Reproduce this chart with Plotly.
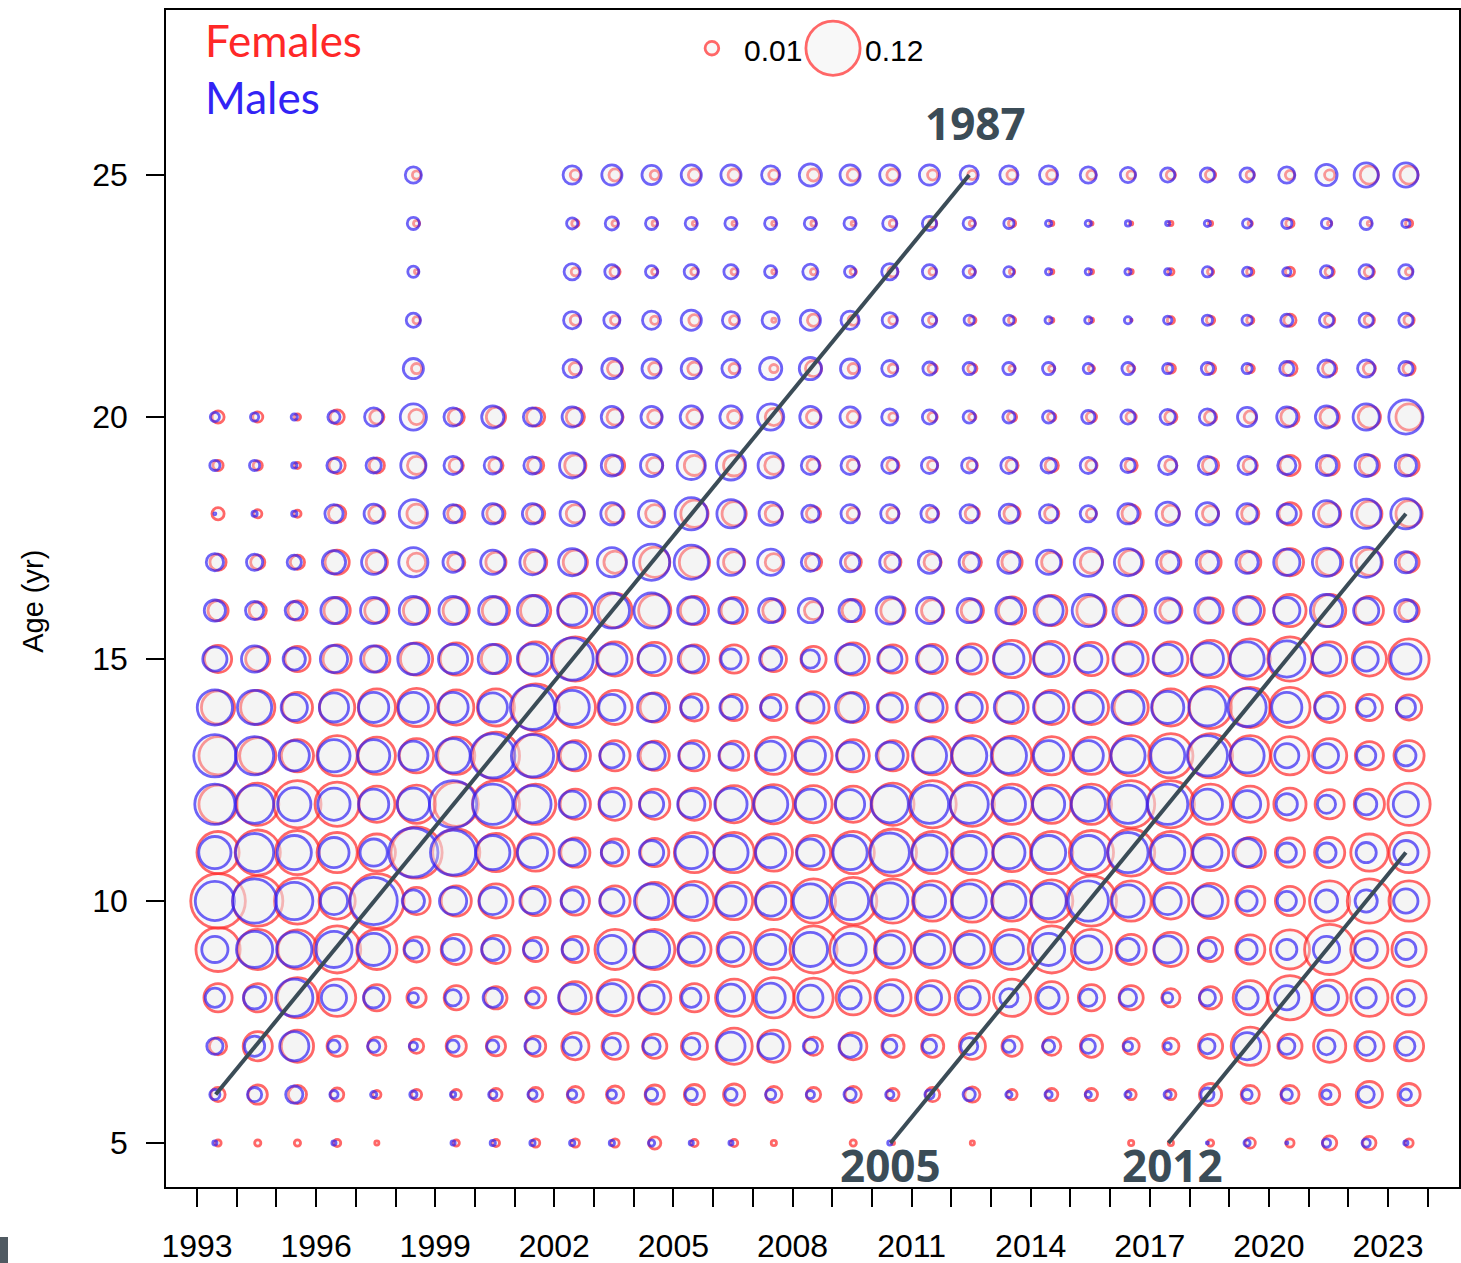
import numpy as np
import plotly.graph_objects as go

# ---------------- data (proportion at age, by year) ----------------
years = list(range(1993, 2024))
ages = list(range(5, 26))
N = None

F5 = [.0030,.0030,.0030,.0037,.0018,N,.0030,.0037,.0045,.0045,.0045,.0083,.0037,.0037,.0024,N,.0030,.0013,N,.0018,N,N,N,.0024,.0024,.0030,.0062,.0045,.0107,.0095,.0045]
F6 = [.0107,.0179,.0163,.0095,.0045,.0062,.0062,.0083,.0107,.0133,.0148,.0179,.0195,.0213,.0133,.0107,.0133,.0083,.0107,.0120,.0062,.0083,.0083,.0062,.0062,.0231,.0163,.0163,.0195,.0311,.0231]
F7 = [.0148,.0378,.0453,.0195,.0163,.0107,.0195,.0179,.0195,.0333,.0311,.0269,.0311,.0562,.0453,.0163,.0333,.0231,.0231,.0311,.0195,.0163,.0231,.0133,.0133,.0269,.0621,.0269,.0453,.0378,.0378]
F8 = [.0355,.0355,.0683,.0591,.0311,.0179,.0269,.0231,.0195,.0453,.0562,.0453,.0355,.0591,.0683,.0652,.0506,.0562,.0506,.0506,.0591,.0453,.0311,.0269,.0163,.0231,.0506,.0816,.0534,.0591,.0506]
F9 = [.0816,.0683,.0652,.0924,.0683,.0290,.0402,.0355,.0269,.0311,.0683,.0683,.0479,.0506,.0683,.0924,.0924,.0591,.0591,.0591,.0683,.0924,.0683,.0402,.0506,.0269,.0378,.0652,.1038,.0591,.0506]
F10 = [.1220,.1038,.0887,.0562,.1220,.0333,.0402,.0506,.0378,.0355,.0402,.0591,.0652,.0591,.0591,.0816,.0924,.0816,.0683,.0748,.0683,.0748,.1038,.0683,.0562,.0534,.0378,.0378,.0683,.0816,.0683]
F11 = [.0748,.0851,.0816,.0683,.0591,.1078,.0924,.0621,.0591,.0378,.0333,.0355,.0683,.0683,.0591,.0506,.0748,.0924,.0748,.0748,.0621,.0748,.0816,.0924,.0748,.0562,.0402,.0378,.0402,.0591,.0683]
F12 = [.0621,.0748,.0924,.0816,.0562,.0621,.0816,.0924,.0683,.0402,.0453,.0402,.0453,.0591,.0652,.0591,.0562,.0748,.0924,.0816,.0683,.0621,.0683,.0924,.0924,.0683,.0562,.0453,.0378,.0402,.0748]
F13 = [.0621,.0562,.0453,.0683,.0591,.0506,.0591,.0924,.0816,.0402,.0402,.0378,.0402,.0378,.0591,.0591,.0453,.0402,.0621,.0683,.0652,.0621,.0591,.0683,.0816,.0816,.0683,.0621,.0506,.0355,.0402]
F14 = [.0479,.0506,.0402,.0534,.0591,.0621,.0534,.0591,.0924,.0683,.0506,.0378,.0333,.0311,.0311,.0427,.0402,.0378,.0378,.0402,.0453,.0506,.0506,.0506,.0591,.0748,.0683,.0683,.0402,.0311,.0290]
F15 = [.0333,.0269,.0290,.0355,.0311,.0453,.0453,.0378,.0506,.0816,.0506,.0479,.0355,.0355,.0290,.0290,.0453,.0355,.0378,.0402,.0591,.0534,.0479,.0506,.0506,.0591,.0683,.0816,.0506,.0506,.0683]
F16 = [.0195,.0148,.0179,.0311,.0269,.0311,.0311,.0333,.0402,.0506,.0506,.0453,.0355,.0311,.0231,.0163,.0231,.0269,.0231,.0231,.0333,.0402,.0378,.0402,.0231,.0290,.0355,.0453,.0453,.0355,.0195]
F17 = [.0133,.0107,.0107,.0269,.0213,.0163,.0148,.0195,.0231,.0269,.0231,.0402,.0402,.0213,.0148,.0133,.0133,.0133,.0148,.0163,.0195,.0195,.0231,.0269,.0195,.0213,.0213,.0333,.0311,.0311,.0195]
F18 = [.0083,.0045,.0037,.0148,.0133,.0179,.0148,.0163,.0163,.0163,.0163,.0163,.0333,.0269,.0148,.0107,.0083,.0083,.0083,.0107,.0133,.0107,.0062,.0163,.0148,.0133,.0148,.0231,.0231,.0290,.0311]
F19 = [.0062,.0053,.0030,.0133,.0120,.0163,.0107,.0107,.0133,.0213,.0179,.0133,.0195,.0213,.0163,.0095,.0083,.0083,.0062,.0062,.0083,.0095,.0072,.0083,.0083,.0133,.0107,.0195,.0179,.0195,.0195]
F20 = [.0083,.0062,.0030,.0107,.0107,.0120,.0133,.0179,.0163,.0163,.0133,.0107,.0120,.0095,.0148,.0107,.0083,.0045,.0053,.0037,.0053,.0045,.0062,.0062,.0083,.0083,.0083,.0163,.0179,.0231,.0311]
F21 = [N,N,N,N,N,.0062,N,N,N,.0083,.0120,.0083,.0095,.0062,.0045,.0133,.0062,.0053,.0053,.0053,.0030,.0030,.0030,.0037,.0053,.0062,.0045,.0107,.0107,.0083,.0083]
F22 = [N,N,N,N,N,.0037,N,N,N,.0062,.0053,.0045,.0072,.0053,.0018,.0083,.0062,.0045,.0045,.0037,.0037,.0018,.0018,.0009,.0037,.0045,.0037,.0083,.0062,.0062,.0062]
F23 = [N,N,N,N,N,.0018,N,N,N,.0045,.0062,.0030,.0037,.0030,.0018,.0030,.0030,.0062,.0037,.0030,.0024,.0018,.0018,.0018,.0030,.0030,.0037,.0053,.0053,.0062,.0037]
F24 = [N,N,N,N,N,.0030,N,N,N,.0037,.0030,.0024,.0018,.0018,.0018,.0024,.0018,.0037,.0045,.0030,.0037,.0018,.0013,.0013,.0018,.0018,.0018,.0045,.0018,.0018,.0037]
F25 = [N,N,N,N,N,.0045,N,N,N,.0062,.0083,.0053,.0083,.0083,.0062,.0083,.0083,.0083,.0062,.0053,.0062,.0062,.0053,.0045,.0053,.0062,.0045,.0053,.0062,.0163,.0163]

M5 = [.0018,N,N,.0018,N,N,.0018,.0024,.0024,.0024,.0024,.0030,.0018,.0018,N,N,N,.0018,N,N,N,N,N,N,N,.0009,.0030,.0009,.0045,.0045,.0018]
M6 = [.0062,.0107,.0148,.0045,.0030,.0037,.0024,.0045,.0053,.0053,.0053,.0083,.0083,.0083,.0062,.0045,.0083,.0045,.0053,.0083,.0030,.0037,.0030,.0030,.0037,.0095,.0062,.0072,.0053,.0133,.0072]
M7 = [.0133,.0195,.0378,.0083,.0083,.0045,.0083,.0083,.0120,.0163,.0148,.0148,.0148,.0355,.0290,.0107,.0231,.0107,.0107,.0148,.0083,.0083,.0107,.0053,.0037,.0120,.0333,.0133,.0148,.0163,.0163]
M8 = [.0179,.0231,.0591,.0290,.0195,.0062,.0133,.0179,.0095,.0333,.0355,.0290,.0179,.0333,.0378,.0290,.0231,.0311,.0269,.0231,.0163,.0213,.0148,.0148,.0062,.0133,.0231,.0269,.0269,.0195,.0148]
M9 = [.0311,.0562,.0534,.0562,.0453,.0163,.0231,.0231,.0163,.0195,.0355,.0562,.0311,.0290,.0402,.0506,.0453,.0378,.0402,.0402,.0378,.0453,.0333,.0231,.0333,.0163,.0195,.0195,.0311,.0231,.0195]
M10 = [.0652,.0816,.0591,.0333,.0924,.0231,.0333,.0333,.0290,.0231,.0269,.0506,.0453,.0402,.0402,.0506,.0591,.0562,.0453,.0506,.0506,.0534,.0683,.0453,.0333,.0402,.0195,.0179,.0231,.0231,.0269]
M11 = [.0453,.0621,.0506,.0402,.0333,.0999,.0851,.0506,.0402,.0311,.0213,.0269,.0453,.0506,.0402,.0333,.0506,.0652,.0534,.0506,.0453,.0506,.0506,.0683,.0506,.0378,.0355,.0179,.0179,.0195,.0269]
M12 = [.0683,.0621,.0479,.0453,.0402,.0453,.0924,.0683,.0591,.0311,.0290,.0269,.0333,.0453,.0506,.0402,.0378,.0591,.0621,.0621,.0479,.0453,.0506,.0621,.0683,.0402,.0333,.0213,.0163,.0213,.0290]
M13 = [.0748,.0621,.0402,.0453,.0453,.0378,.0506,.0816,.0748,.0333,.0269,.0333,.0290,.0269,.0378,.0402,.0333,.0333,.0506,.0534,.0534,.0402,.0402,.0506,.0506,.0683,.0506,.0269,.0269,.0179,.0195]
M14 = [.0534,.0506,.0311,.0378,.0402,.0402,.0402,.0378,.0816,.0506,.0311,.0355,.0213,.0231,.0195,.0333,.0378,.0290,.0333,.0311,.0378,.0402,.0402,.0453,.0453,.0591,.0621,.0402,.0250,.0163,.0179]
M15 = [.0269,.0311,.0231,.0333,.0311,.0427,.0378,.0378,.0402,.0748,.0402,.0333,.0311,.0195,.0231,.0163,.0378,.0269,.0311,.0269,.0402,.0402,.0333,.0402,.0378,.0453,.0506,.0562,.0355,.0269,.0402]
M16 = [.0213,.0163,.0163,.0311,.0311,.0355,.0355,.0355,.0402,.0378,.0534,.0534,.0333,.0269,.0269,.0269,.0231,.0333,.0311,.0269,.0311,.0378,.0453,.0402,.0290,.0290,.0333,.0311,.0453,.0290,.0231]
M17 = [.0148,.0133,.0107,.0250,.0269,.0378,.0195,.0269,.0290,.0333,.0378,.0562,.0506,.0311,.0311,.0163,.0179,.0195,.0231,.0195,.0231,.0269,.0355,.0333,.0231,.0231,.0231,.0311,.0355,.0402,.0213]
M18 = [.0006,.0024,.0024,.0163,.0179,.0355,.0163,.0195,.0195,.0269,.0231,.0311,.0453,.0355,.0250,.0148,.0163,.0163,.0148,.0163,.0179,.0163,.0133,.0195,.0250,.0231,.0195,.0179,.0311,.0378,.0402]
M19 = [.0062,.0062,.0024,.0107,.0120,.0290,.0163,.0148,.0148,.0290,.0213,.0231,.0355,.0378,.0290,.0163,.0163,.0133,.0133,.0120,.0133,.0120,.0133,.0107,.0163,.0163,.0163,.0163,.0195,.0231,.0213]
M20 = [.0053,.0045,.0030,.0083,.0163,.0311,.0163,.0231,.0163,.0195,.0213,.0213,.0231,.0231,.0311,.0213,.0195,.0133,.0107,.0083,.0083,.0083,.0095,.0107,.0120,.0133,.0179,.0195,.0231,.0311,.0506]
M21 = [N,N,N,N,N,.0195,N,N,N,.0163,.0195,.0179,.0195,.0163,.0231,.0231,.0179,.0133,.0095,.0083,.0083,.0083,.0062,.0083,.0062,.0083,.0062,.0107,.0148,.0148,.0107]
M22 = [N,N,N,N,N,.0107,N,N,N,.0148,.0133,.0163,.0195,.0148,.0148,.0195,.0163,.0120,.0107,.0062,.0062,.0037,.0037,.0037,.0045,.0062,.0062,.0083,.0107,.0107,.0107]
M23 = [N,N,N,N,N,.0072,N,N,N,.0133,.0107,.0083,.0107,.0107,.0083,.0120,.0072,.0133,.0107,.0083,.0062,.0030,.0030,.0030,.0030,.0062,.0053,.0045,.0083,.0107,.0107]
M24 = [N,N,N,N,N,.0083,N,N,N,.0072,.0095,.0083,.0083,.0083,.0083,.0083,.0083,.0107,.0107,.0083,.0062,.0030,.0030,.0024,.0018,.0030,.0053,.0062,.0062,.0083,.0045]
M25 = [N,N,N,N,N,.0133,N,N,N,.0163,.0195,.0179,.0195,.0195,.0163,.0231,.0195,.0195,.0195,.0163,.0163,.0163,.0133,.0120,.0107,.0107,.0107,.0133,.0213,.0269,.0269]

females = [F5, F6, F7, F8, F9, F10, F11, F12, F13, F14, F15, F16, F17, F18, F19, F20, F21, F22, F23, F24, F25]
males = [M5, M6, M7, M8, M9, M10, M11, M12, M13, M14, M15, M16, M17, M18, M19, M20, M21, M22, M23, M24, M25]

legend_values = [0.01, 0.12]
xtick_years = list(range(1993, 2024, 3))
ytick_ages = [5, 10, 15, 20, 25]

# cohort lines: (cohort label, first year, first age, last year, last age)
cohorts = [(1987, 1993, 6, 2012, 25), (2005, 2010, 5, 2023, 18), (2012, 2017, 5, 2023, 11)]

# ---------------- styling ----------------
RED = "rgb(255,40,40)"
BLUE = "rgb(50,35,245)"
FILL = "rgba(238,238,238,0.5)"
SLATE = "#3b4c57"
SCALE = 164.5          # px diameter per sqrt(proportion)
LW = 2.8
F_OFF, M_OFF = 0.53, 0.45
TICKFONT = dict(size=32, family="Arial, Liberation Sans, sans-serif", color="black")


def to_size(p):
    return np.maximum(SCALE * np.sqrt(np.asarray(p, dtype=float)) - LW, 2.0)


def collect(rows, off):
    xs, ys, ps = [], [], []
    for age, row in zip(ages, rows):
        for yr, p in zip(years, row):
            if p is not None:
                xs.append(yr + off)
                ys.append(age)
                ps.append(p)
    return xs, ys, ps


fig = go.Figure()
for rows, off, col, name in [(females, F_OFF, RED, "Females"), (males, M_OFF, BLUE, "Males")]:
    xs, ys, ps = collect(rows, off)
    fig.add_trace(go.Scatter(
        x=xs, y=ys, mode="markers", name=name,
        marker=dict(size=to_size(ps), color=FILL, line=dict(color=col, width=LW)),
        hovertemplate="%{x:.0f}, age %{y}: %{customdata}<extra></extra>", customdata=ps))

for label, y0, a0, y1, a1 in cohorts:
    fig.add_trace(go.Scatter(x=[y0 + M_OFF + 0.02, y1 + M_OFF], y=[a0, a1], mode="lines",
                             line=dict(color=SLATE, width=4), hoverinfo="skip"))

# size legend bubbles
fig.add_trace(go.Scatter(x=[2005.97, 2009.02], y=[27.62, 27.62], mode="markers",
                         marker=dict(size=to_size(legend_values), color=FILL, line=dict(color=RED, width=LW)),
                         hoverinfo="skip"))

X0, X1 = 1992.219, 2024.788
Y0, Y1 = 4.091, 28.409

fig.update_layout(
    width=1461, height=1263,
    margin=dict(l=166, r=2, t=10, b=76, autoexpand=False),
    plot_bgcolor="white", paper_bgcolor="white",
    showlegend=False,
    font=dict(family="Arial, Liberation Sans, sans-serif", color="black"),
)
fig.update_xaxes(range=[X0, X1], tickvals=xtick_years, ticktext=[str(v) for v in xtick_years],
                 automargin=False,
                 ticks="outside", ticklen=18, tickwidth=1.5, tickcolor="black", ticklabelstandoff=12,
                 minor=dict(dtick=1, tick0=1993, ticks="outside", ticklen=18, tickwidth=1.5, tickcolor="black"),
                 showgrid=False, zeroline=False, showline=True, linecolor="black", linewidth=1.5, mirror=True,
                 tickfont=TICKFONT)
fig.update_yaxes(range=[Y0, Y1], tickvals=ytick_ages, ticks="outside", ticklen=18, tickwidth=1.5,
                 automargin=False,
                 tickcolor="black", ticklabelstandoff=12, showgrid=False, zeroline=False, showline=True,
                 linecolor="black", linewidth=1.5, mirror=True, tickfont=TICKFONT)

annots = [
    dict(text="Age (yr)", x=-0.1029, y=0.498, xref="paper", yref="paper", textangle=-90,
         showarrow=False, font=dict(size=29), xanchor="center", yanchor="middle"),
    dict(text="Females", x=0.0286, y=0.9745, xref="paper", yref="paper", showarrow=False,
         xanchor="left", yanchor="middle", font=dict(size=44, color=RED, family="Lato, Open Sans, sans-serif")),
    dict(text="Males", x=0.0286, y=0.926, xref="paper", yref="paper", showarrow=False,
         xanchor="left", yanchor="middle", font=dict(size=44, color=BLUE, family="Lato, Open Sans, sans-serif")),
    dict(text=f"{legend_values[0]:.2f}", x=0.4455, y=0.966, xref="paper", yref="paper", showarrow=False,
         xanchor="left", yanchor="middle", font=dict(size=30)),
    dict(text=f"{legend_values[1]:.2f}", x=0.539, y=0.966, xref="paper", yref="paper", showarrow=False,
         xanchor="left", yanchor="middle", font=dict(size=30)),
]
label_pos = {1987: (2012.6, 26.07), 2005: (2010.46, 4.545), 2012: (2017.56, 4.545)}
for label, *_ in cohorts:
    lx, ly = label_pos[label]
    annots.append(dict(text=f"<b>{label}</b>", x=lx, y=ly, xref="x", yref="y", showarrow=False,
                       xanchor="center", yanchor="middle",
                       font=dict(size=44, color=SLATE, family="Open Sans, sans-serif")))
fig.update_layout(annotations=annots)

fig.add_shape(type="rect", xref="paper", yref="paper", x0=-0.1284, x1=-0.1222, y0=-0.0646, y1=-0.0425,
              fillcolor="#505a62", line=dict(width=0), layer="above")

fig.write_html("out.html", config={"displayModeBar": False},
               post_script="document.body.style.margin='0';document.body.style.overflow='hidden';")
